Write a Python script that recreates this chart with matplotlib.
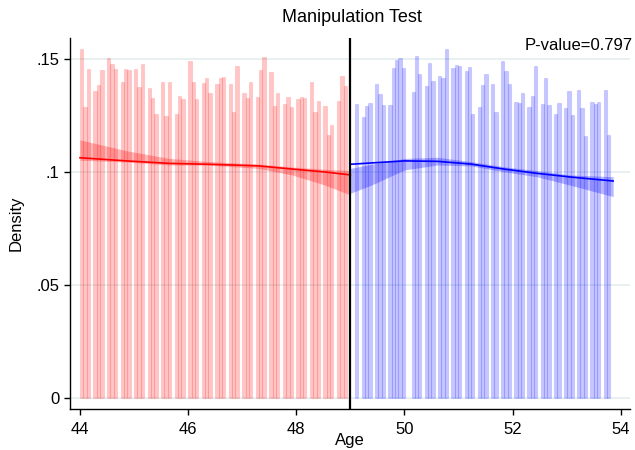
import matplotlib.pyplot as plt

plt.rcParams['font.family'] = ['Liberation Sans', 'DejaVu Sans']

# histogram bins (age in years), left of cutoff: 3 filled bins out of every 4
left_start = 44.0
left_width = 0.0625
left_bin_idx = [g * 4 + j for g in range(20) for j in range(3)]
left_heights = [
    0.1544, 0.1286, 0.1456, 0.1358, 0.1385, 0.1450, 0.1503, 0.1478, 0.1456,
    0.1400, 0.1456, 0.1450, 0.1456, 0.1376, 0.1476, 0.1372, 0.1327, 0.1257,
    0.1397, 0.1248, 0.1400, 0.1257, 0.1336, 0.1322, 0.1491, 0.1398, 0.1322,
    0.1395, 0.1416, 0.1350, 0.1389, 0.1414, 0.1419, 0.1389, 0.1264, 0.1469,
    0.1350, 0.1326, 0.1400, 0.1332, 0.1450, 0.1509, 0.1442, 0.1292, 0.1350,
    0.1301, 0.1332, 0.1286, 0.1323, 0.1332, 0.1327, 0.1400, 0.1267, 0.1316,
    0.1291, 0.1164, 0.1207, 0.1313, 0.1426, 0.1379,
]

right_start = 49.028
right_width = 0.06127
right_bin_idx = [
    1, 3, 4, 5, 7, 8, 9, 11, 12, 13, 14, 15, 18, 19, 20, 22, 23, 24, 26, 27,
    28, 30, 31, 32, 34, 35, 36, 38, 39, 40, 42, 43, 45, 46, 47, 49, 50, 51,
    53, 54, 55, 57, 58, 59, 61, 62, 64, 65, 66, 68, 69, 70, 72, 73, 74, 76, 77,
]
right_heights = [
    0.1299, 0.1245, 0.1292, 0.1307, 0.1389, 0.1344, 0.1296, 0.1296, 0.1460,
    0.1496, 0.1503, 0.1459, 0.1354, 0.1513, 0.1434, 0.1381, 0.1481, 0.1403,
    0.1425, 0.1414, 0.1543, 0.1460, 0.1473, 0.1469, 0.1447, 0.1465, 0.1257,
    0.1288, 0.1385, 0.1434, 0.1388, 0.1264, 0.1491, 0.1447, 0.1388, 0.1310,
    0.1307, 0.1348, 0.1286, 0.1336, 0.1469, 0.1299, 0.1417, 0.1295, 0.1255,
    0.1304, 0.1282, 0.1360, 0.1251, 0.1364, 0.1282, 0.1159, 0.1308, 0.1301,
    0.1311, 0.1363, 0.1164,
]

# local polynomial density fits and confidence bands
fit_left_age = [44.0, 44.86, 45.65, 46.39, 47.3, 47.92, 48.53, 49.0]
fit_left = [0.1063, 0.1049, 0.1038, 0.1034, 0.1027, 0.1013, 0.1000, 0.0987]
ci_left_hi = [0.1142, 0.1094, 0.1060, 0.1046, 0.1035, 0.1022, 0.1012, 0.1006]
ci_left_lo = [0.1052, 0.1044, 0.1031, 0.1030, 0.1016, 0.0987, 0.0942, 0.0898]

fit_right_age = [49.0, 49.39, 50.0, 50.61, 51.23, 51.84, 52.45, 53.06, 53.86]
fit_right = [0.1034, 0.1040, 0.1049, 0.1047, 0.1035, 0.1013, 0.0994, 0.0978, 0.0960]
ci_right_hi = [0.1016, 0.1034, 0.1060, 0.1065, 0.1046, 0.1023, 0.1006, 0.0987, 0.0979]
ci_right_lo = [0.0906, 0.0942, 0.1009, 0.1031, 0.1027, 0.1001, 0.0979, 0.0942, 0.0891]

cutoff = 49
p_value = 0.797
y_ticks = [0, 0.05, 0.1, 0.15]
y_tick_labels = ["0", ".05", ".1", ".15"]
x_ticks = [44, 46, 48, 50, 52, 54]

fig = plt.figure(figsize=(6.35, 4.5), dpi=100)
ax = fig.add_axes([0.1102, 0.0911, 0.8818, 0.8245])

for y in y_ticks:
    ax.axhline(y, color="#e6eff1", lw=1.3, zorder=0)

left_x = [left_start + i * left_width for i in left_bin_idx]
right_x = [right_start + i * right_width for i in right_bin_idx]
ax.bar(left_x, left_heights, width=left_width, align="edge",
       facecolor=(1, 0, 0, 0.22), edgecolor=(1, 0, 0, 0.12), lw=0.8, zorder=1)
ax.bar(right_x, right_heights, width=right_width, align="edge",
       facecolor=(0, 0, 1, 0.22), edgecolor=(0, 0, 1, 0.12), lw=0.8, zorder=1)

ax.fill_between(fit_left_age, ci_left_lo, ci_left_hi, color="red", alpha=0.28, lw=0, zorder=2)
ax.fill_between(fit_right_age, ci_right_lo, ci_right_hi, color="blue", alpha=0.28, lw=0, zorder=2)
ax.plot(fit_left_age, fit_left, color="red", lw=1.2, zorder=3)
ax.plot(fit_right_age, fit_right, color="blue", lw=1.2, zorder=3)

ax.axvline(cutoff, color="black", lw=1.6, zorder=4)

ax.set_xlim(43.815, 54.17)
ax.set_ylim(-0.0049, 0.1593)
ax.set_yticks(y_ticks)
ax.set_yticklabels(y_tick_labels)
ax.set_xticks(x_ticks)
ax.tick_params(direction="out", length=4.5, width=1.0, labelsize=12)
ax.tick_params(axis="x", pad=5)
ax.tick_params(axis="y", pad=3)
for side in ["top", "right"]:
    ax.spines[side].set_visible(False)
for side in ["left", "bottom"]:
    ax.spines[side].set_linewidth(1.0)

ax.set_xlabel("Age", fontsize=12)
ax.xaxis.set_label_coords(0.5, -0.064)
ax.set_ylabel("Density", fontsize=12)
ax.yaxis.set_label_coords(-0.082, 0.5)

fig.text(352 / 635, 1 - 18 / 450, "Manipulation Test", ha="center", va="center", fontsize=13)
fig.text(633 / 635, 1 - 45 / 450, f"P-value={p_value}", ha="right", va="center", fontsize=12)

fig.savefig("out.png", dpi=100)
